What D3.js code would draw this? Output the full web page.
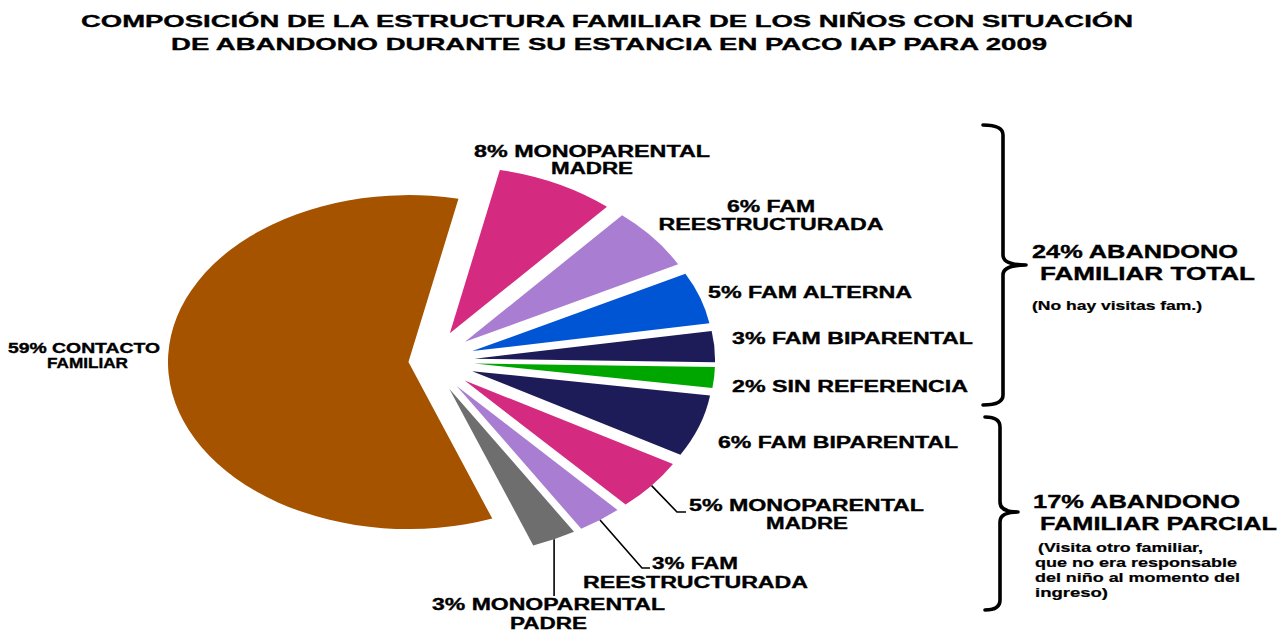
<!DOCTYPE html>
<html>
<head>
<meta charset="utf-8">
<script src="https://cdn.jsdelivr.net/npm/d3@7"></script>
<style>
  html, body { margin: 0; padding: 0; background: #ffffff; }
  svg { display: block; }
  text { font-family: "Liberation Sans", Arial, sans-serif; font-weight: bold; fill: #000; stroke: #000; stroke-width: 0.35px; }
</style>
</head>
<body>
<svg id="chart" width="1284" height="631"></svg>
<script>
// ---------------- DATA ----------------
const titleLines = [
  "COMPOSICIÓN DE LA ESTRUCTURA FAMILIAR DE LOS NIÑOS CON SITUACIÓN",
  "DE ABANDONO DURANTE SU ESTANCIA EN PACO IAP PARA 2009"
];
// slice order clockwise starting just right of 12 o'clock
const categories = [
  "MONOPARENTAL|MADRE",
  "FAM|REESTRUCTURADA",
  "FAM ALTERNA",
  "FAM BIPARENTAL",
  "SIN REFERENCIA",
  "FAM BIPARENTAL",
  "MONOPARENTAL|MADRE",
  "FAM|REESTRUCTURADA",
  "MONOPARENTAL|PADRE",
  "CONTACTO|FAMILIAR"
];
const values = [8, 6, 5, 3, 2, 6, 5, 3, 3, 59];
const groupOf = ["total", "total", "total", "total", "total", "parcial", "parcial", "parcial", "parcial", "contacto"];
const groupTitles = { total: "FAMILIAR TOTAL", parcial: "FAMILIAR PARCIAL" };
const groupNotes = {
  total: ["(No hay visitas fam.)"],
  parcial: ["(Visita otro familiar,", "que no era responsable", "del niño al momento del", "ingreso)"]
};

// ---------------- STYLE / LAYOUT ----------------
const colors = ["#D42A80", "#A97ED2", "#0055D4", "#1E1C58", "#00A600", "#1E1C58", "#D42A80", "#A97ED2", "#6E6E6E", "#A65300"];
const cx = 430, cy = 361, radius = 167, sx = 1.44;
const startDeg = 12;
const explodeSmall = 31, explodeMain = 15;

const labelLayout = [
  { cx: [592, 592],   y: 157, dy: 17, w: [236, 82] },
  { cx: [771, 771],   y: 212, dy: 18, w: [88, 225] },
  { cx: [810],        y: 298, w: [204] },
  { cx: [852.5],      y: 344, w: [241] },
  { cx: [850],        y: 392, w: [236] },
  { cx: [838],        y: 448, w: [240] },
  { cx: [806.5, 807], y: 511, dy: 18, w: [235, 82], leader: { elbow: [677, 512], end: [686, 512] } },
  { cx: [695, 695.5], y: 569, dy: 19, w: [86, 225], leader: { elbow: [642, 568], end: [650, 568] } },
  { cx: [548.5, 548.5], y: 610, dy: 19, w: [233, 77], leader: { vertical: 596 } },
  { cx: [84, 87.5],   y: 353, dy: 15, w: [152, 81], size: 14 }
];

const groupLayout = {
  total:   { x: 1032, y: 258, w: [206, 215], x2: 1040, notesY: 310, notesX: [1032], notesW: [170],
             brace: { x: 1003, top: 125, bottom: 405, mid: 265, tip: 1026, hook: 983 } },
  parcial: { x: 1033, y: 508, w: [207, 237], x2: 1040, notesY: 552, notesX: [1038, 1035, 1035, 1035], notesW: [165, 202, 205, 73],
             brace: { x: 1000, top: 417, bottom: 610, mid: 512, tip: 1018, hook: 985 } }
};

// ---------------- DRAW ----------------
const svg = d3.select("#chart");

// title
svg.selectAll("text.title").data(titleLines).join("text")
  .attr("class", "title")
  .attr("x", (d, i) => i === 0 ? 607 : 609)
  .attr("y", (d, i) => i === 0 ? 27 : 50)
  .attr("text-anchor", "middle")
  .attr("font-size", 17)
  .attr("textLength", (d, i) => i === 0 ? 1052 : 876)
  .attr("lengthAdjust", "spacingAndGlyphs")
  .text(d => d);

const rad = Math.PI / 180;
const pie = d3.pie().sort(null).value(d => d)
  .startAngle(startDeg * rad).endAngle(startDeg * rad + 2 * Math.PI);
const arcs = pie(values);
const arc = d3.arc().innerRadius(0).outerRadius(radius);

const explodeOf = i => groupOf[i] === "contacto" ? explodeMain : explodeSmall;
const midOf = a => (a.startAngle + a.endAngle) / 2;

const pieG = svg.append("g").attr("transform", `translate(${cx},${cy}) scale(${sx},1)`);
pieG.selectAll("path").data(arcs).join("path")
  .attr("d", arc)
  .attr("fill", (d, i) => colors[i])
  .attr("transform", (d, i) => {
    const m = midOf(d), e = explodeOf(i);
    return `translate(${Math.sin(m) * e},${-Math.cos(m) * e})`;
  });

// screen point on a slice's outer edge at its mid angle
function edgePoint(a, i) {
  const m = midOf(a), r = radius + explodeOf(i);
  return [cx + sx * Math.sin(m) * r, cy - Math.cos(m) * r];
}

// leader lines
arcs.forEach((a, i) => {
  const L = labelLayout[i].leader;
  if (!L) return;
  const p0 = edgePoint(a, i);
  const pts = L.vertical ? [p0, [p0[0], L.vertical]] : [p0, L.elbow, L.end];
  svg.append("path")
    .attr("d", d3.line()(pts))
    .attr("fill", "none")
    .attr("stroke", "#000")
    .attr("stroke-width", 1.6);
});

// slice labels
arcs.forEach((a, i) => {
  const parts = categories[i].split("|");
  const lines = [`${values[i]}% ${parts[0]}`].concat(parts.slice(1));
  const L = labelLayout[i];
  lines.forEach((t, k) => {
    svg.append("text")
      .attr("x", L.cx[k])
      .attr("y", L.y + k * (L.dy || 0))
      .attr("text-anchor", "middle")
      .attr("font-size", L.size || 16)
      .attr("textLength", L.w[k])
      .attr("lengthAdjust", "spacingAndGlyphs")
      .text(t);
  });
});

// group braces and texts
Object.keys(groupLayout).forEach(g => {
  const G = groupLayout[g];
  const total = d3.sum(values.filter((v, i) => groupOf[i] === g));
  const b = G.brace;
  const r = 10;
  const braceD = `M${b.hook},${b.top} Q${b.x},${b.top} ${b.x},${b.top + r}
    L${b.x},${b.mid - r} Q${b.x},${b.mid} ${b.tip},${b.mid}
    Q${b.x},${b.mid} ${b.x},${b.mid + r}
    L${b.x},${b.bottom - r} Q${b.x},${b.bottom} ${b.hook},${b.bottom}`;
  svg.append("path").attr("d", braceD)
    .attr("fill", "none").attr("stroke", "#000")
    .attr("stroke-width", 3.6).attr("stroke-linejoin", "round").attr("stroke-linecap", "round");

  const heads = [`${total}% ABANDONO`, groupTitles[g]];
  heads.forEach((t, k) => {
    svg.append("text")
      .attr("x", k === 0 ? G.x : G.x2)
      .attr("y", G.y + k * 22)
      .attr("font-size", 18)
      .attr("textLength", G.w[k])
      .attr("lengthAdjust", "spacingAndGlyphs")
      .text(t);
  });
  groupNotes[g].forEach((t, k) => {
    svg.append("text")
      .attr("x", G.notesX[k])
      .attr("y", G.notesY + k * 15)
      .attr("font-size", 12)
      .attr("textLength", G.notesW[k])
      .attr("lengthAdjust", "spacingAndGlyphs")
      .style("stroke-width", "0.2px")
      .text(t);
  });
});
</script>
</body>
</html>
